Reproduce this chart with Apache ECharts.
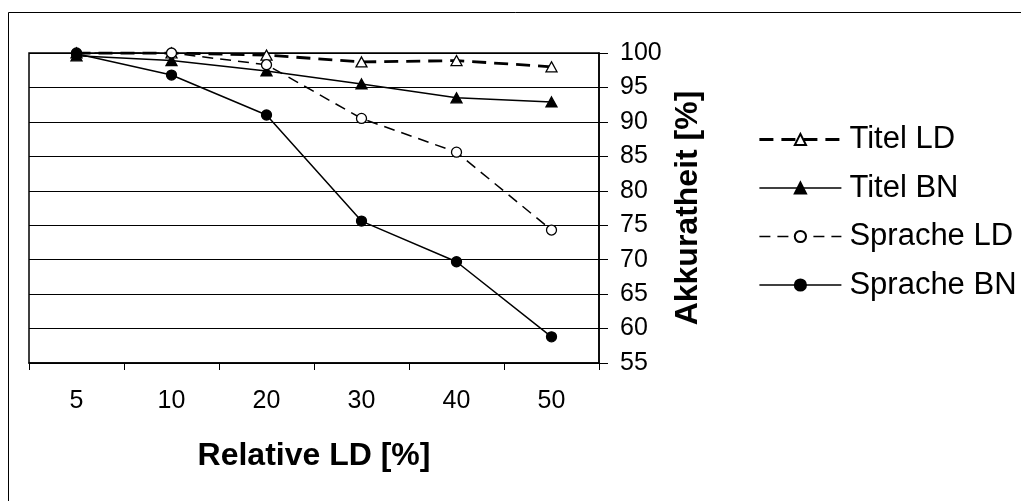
<!DOCTYPE html>
<html><head><meta charset="utf-8">
<script src="https://cdn.jsdelivr.net/npm/echarts@6/dist/echarts.min.js"></script>
<style>html,body{margin:0;padding:0;background:#fff}#c{width:1021px;height:501px}</style>
</head><body><div id="c"></div>
<script>
const categories = ['5', '10', '20', '30', '40', '50'];
const titelLD = [100, 100, 99.7, 98.7, 98.9, 98.0];
const titelBN = [99.6, 98.9, 97.4, 95.5, 93.5, 92.9];
const spracheLD = [100, 100, 98.3, 90.5, 85.6, 74.3];
const spracheBN = [99.9, 96.8, 91.0, 75.6, 69.7, 58.8];
const yMin = 55, yMax = 100, yStep = 5;
const seriesNames = ['Titel LD', 'Titel BN', 'Sprache LD', 'Sprache BN'];
const xName = 'Relative LD [%]';
const yName = 'Akkuratheit [%]';

const FONT = '"Liberation Sans", Arial, sans-serif';
const chart = echarts.init(document.getElementById('c'), null, {renderer: 'canvas'});

const styles = [
  {symbol: 'triangle', filled: false, width: 2.8, dash: [14, 8]},
  {symbol: 'triangle', filled: true, width: 1.5, dash: 'solid'},
  {symbol: 'circle', filled: false, width: 1.5, dash: [11, 7]},
  {symbol: 'circle', filled: true, width: 1.5, dash: 'solid'}
];

function mk(i, data) {
  const s = styles[i];
  return {
    name: seriesNames[i], type: 'line', data, symbol: s.symbol,
    symbolSize: s.symbol === 'triangle' ? [11, 10] : 10,
    showAllSymbol: true,
    animation: false,
    lineStyle: {color: '#000', width: s.width, type: s.dash},
    itemStyle: {color: s.filled ? '#000' : '#fff', borderColor: '#000', borderWidth: 1.3, opacity: 1}
  };
}

chart.setOption({
  backgroundColor: '#fff',
  animation: false,
  textStyle: {fontFamily: FONT, color: '#000'},
  graphic: [{
    type: 'rect', shape: {x: 8.5, y: 12.5, width: 1100, height: 600},
    style: {fill: 'none', stroke: '#000', lineWidth: 1}, silent: true, z: -10
  }],
  grid: {left: 29, top: 53, width: 570, height: 310, show: true, borderColor: '#000', borderWidth: 1.5, backgroundColor: 'transparent'},
  legend: {
    orient: 'vertical', left: 758, top: 124, padding: 0, itemGap: 17.5,
    itemWidth: 82, itemHeight: 14,
    textStyle: {fontFamily: FONT, fontSize: 31, color: '#000', padding: [0, 0, 0, 3]},
    data: seriesNames.map((n, i) => ({
      name: n,
      lineStyle: {color: '#000', width: styles[i].width, type: styles[i].dash}
    }))
  },
  xAxis: {
    type: 'category', data: categories, boundaryGap: true,
    axisLine: {show: true, lineStyle: {color: '#000', width: 1.5}},
    axisTick: {show: true, length: 7, lineStyle: {color: '#000', width: 1}},
    axisLabel: {fontFamily: FONT, fontSize: 25, color: '#000', margin: 26},
    splitLine: {show: false},
    name: xName, nameLocation: 'middle', nameGap: 77,
    nameTextStyle: {fontFamily: FONT, fontSize: 32, fontWeight: 'bold', color: '#000'}
  },
  yAxis: {
    type: 'value', position: 'right', min: yMin, max: yMax, interval: yStep,
    axisLine: {show: true, lineStyle: {color: '#000', width: 1.5}},
    axisTick: {show: true, length: 9, lineStyle: {color: '#000', width: 1}},
    axisLabel: {fontFamily: FONT, fontSize: 25, color: '#000', margin: 21},
    splitLine: {show: true, lineStyle: {color: '#000', width: 1}},
    name: yName, nameLocation: 'middle', nameGap: 73,
    nameTextStyle: {fontFamily: FONT, fontSize: 32, fontWeight: 'bold', color: '#000'}
  },
  series: [
    mk(0, titelLD),
    mk(1, titelBN),
    mk(2, spracheLD),
    mk(3, spracheBN)
  ]
});
</script></body></html>
